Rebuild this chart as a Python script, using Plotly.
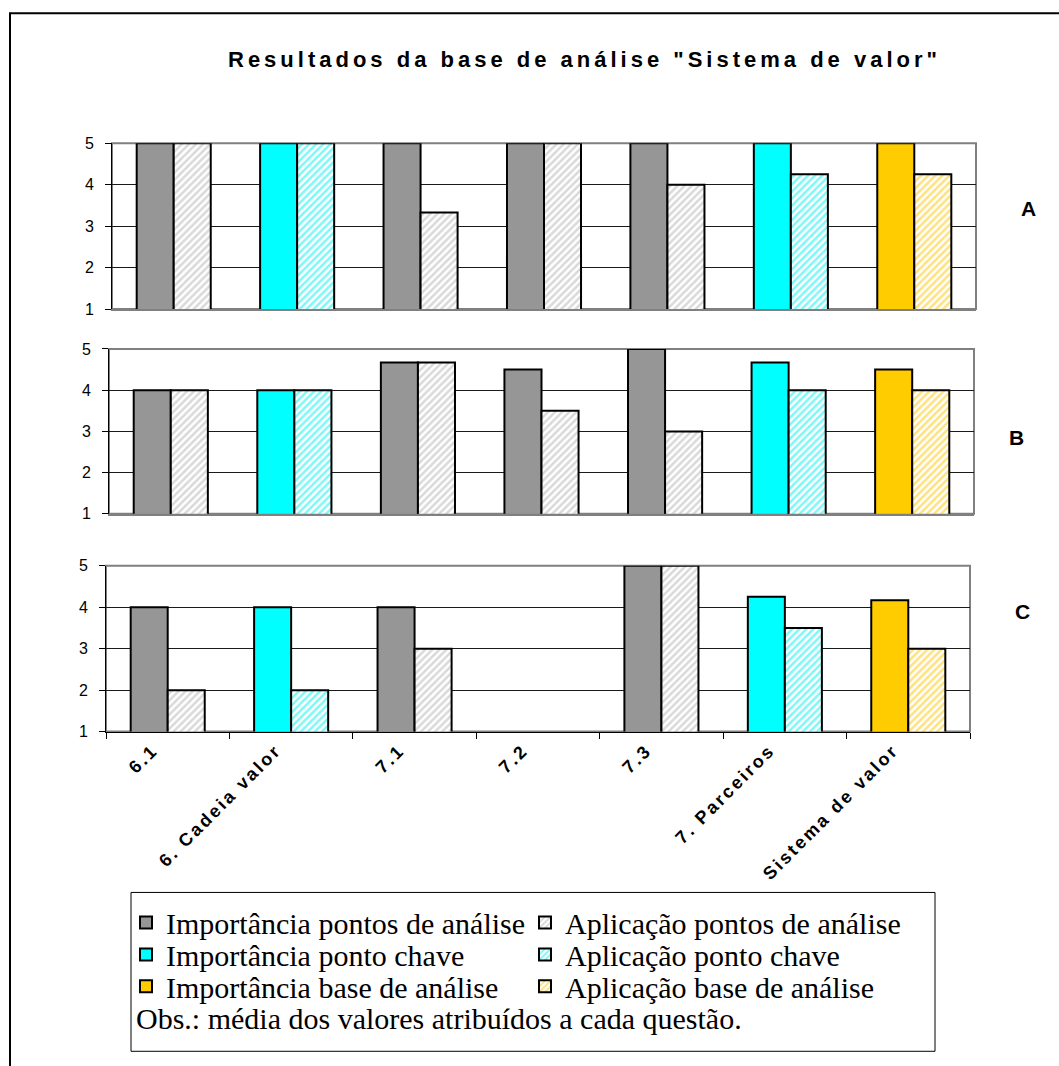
import plotly.graph_objects as go

# ---- data -------------------------------------------------------------
categories = ["6.1", "6. Cadeia valor", "7.1", "7.2", "7.3", "7. Parceiros", "Sistema de valor"]
# which colour family each category belongs to
category_kind = ["pontos", "chave", "pontos", "pontos", "pontos", "chave", "base"]

panel_labels = ["A", "B", "C"]

importancia_A = [5, 5, 5, 5, 5, 5, 5]
aplicacao_A = [5, 5, 3.33, 5, 4, 4.25, 4.25]

importancia_B = [4, 4, 4.67, 4.5, 5, 4.67, 4.5]
aplicacao_B = [4, 4, 4.67, 3.5, 3, 4, 4]

importancia_C = [4, 4, 4, None, 5, 4.25, 4.17]
aplicacao_C = [2, 2, 3, None, 5, 3.5, 3]

y_ticks = [1, 2, 3, 4, 5]

series_names = {
    ("imp", "pontos"): "Importância pontos de análise",
    ("apl", "pontos"): "Aplicação pontos de análise",
    ("imp", "chave"): "Importância ponto chave",
    ("apl", "chave"): "Aplicação ponto chave",
    ("imp", "base"): "Importância base de análise",
    ("apl", "base"): "Aplicação base de análise",
}
note_text = "Obs.: média dos valores atribuídos a cada questão."
title_text = 'Resultados da base de análise "Sistema de valor"'

# ---- styling ----------------------------------------------------------
W, H = 1059, 1066
solid_colors = {"pontos": "#969696", "chave": "#00FFFF", "base": "#FFCC00"}
hatch_colors = {"pontos": "#B4B4B4", "chave": "#00F0F0", "base": "#FFC400"}

# pixel boxes of the three panels: (left, right, top, bottom)
panel_boxes = [(112, 976, 143, 309), (109, 974, 349, 514), (106, 970, 566, 732)]
label_pos = [(1028, 208), (1016, 438), (1022, 612)]

# vertical layout scale (page rows -> figure rows)
Y_SCALE, Y_SHIFT = 0.985, 7.7


def px_x(px):
    return px / W


def px_y(py):
    return 1 - ((py - Y_SHIFT) / Y_SCALE) / H


def spaced(text, px):
    return f'<span style="letter-spacing:{px}px">{text}</span>'


def pick(values, kind):
    return [v if k == kind else None for v, k in zip(values, category_kind)]


panel_data = [(importancia_A, aplicacao_A), (importancia_B, aplicacao_B), (importancia_C, aplicacao_C)]

fig = go.Figure()

legend_order = [("imp", "pontos"), ("apl", "pontos"), ("imp", "chave"),
                ("apl", "chave"), ("imp", "base"), ("apl", "base")]
legend_ids = {key: ("legend" if i == 0 else f"legend{i + 1}") for i, key in enumerate(legend_order)}

for p, (imp, apl) in enumerate(panel_data):
    xa = "x" if p == 0 else f"x{p + 1}"
    ya = "y" if p == 0 else f"y{p + 1}"
    for kind in ["pontos", "chave", "base"]:
        for role, vals in (("imp", imp), ("apl", apl)):
            if role == "imp":
                marker = dict(color=solid_colors[kind], line=dict(color="black", width=2))
            else:
                marker = dict(color="white", line=dict(color="black", width=2),
                              pattern=dict(shape="/", fgcolor=hatch_colors[kind], bgcolor="white",
                                           size=5, solidity=0.5))
            fig.add_trace(go.Bar(
                x=categories, y=pick(vals, kind), name=series_names[(role, kind)],
                offsetgroup=role, marker=marker, xaxis=xa, yaxis=ya,
                legendgroup=f"{role}-{kind}", showlegend=(p == 0),
                legend=legend_ids[(role, kind)],
            ))

layout = dict(
    width=W, height=H, margin=dict(l=0, r=0, t=0, b=0),
    paper_bgcolor="white", plot_bgcolor="white",
    barmode="group", bargap=0.4, bargroupgap=0,
    font=dict(family="Liberation Sans, Arial", color="black"),
)

shapes = []
for p, (l, r, t, b) in enumerate(panel_boxes):
    xk = "xaxis" if p == 0 else f"xaxis{p + 1}"
    yk = "yaxis" if p == 0 else f"yaxis{p + 1}"
    xa = "x" if p == 0 else f"x{p + 1}"
    ya = "y" if p == 0 else f"y{p + 1}"
    last = p == 2
    layout[xk] = dict(
        domain=[px_x(l), px_x(r)], anchor=ya, type="category",
        categoryorder="array", categoryarray=categories,
        tickvals=categories, ticktext=[spaced(c, 2.5) for c in categories],
        showline=True, linecolor="black" if last else "#808080", linewidth=1 if last else 2,
        showgrid=False, ticks="outside" if last else "", tickson="boundaries",
        ticklen=6, tickcolor="black", showticklabels=last, tickangle=-45,
        tickfont=dict(family="Liberation Sans, Arial", size=18, color="black", weight="bold"),
        ticklabelstandoff=0, ticklabelshift=-15,
    )
    layout[yk] = dict(
        domain=[px_y(b), px_y(t)], anchor=xa, range=[1, 5], tickvals=y_ticks,
        showline=True, linecolor="black", linewidth=1,
        showgrid=True, gridcolor="#1a1a1a", gridwidth=1, zeroline=False,
        ticks="outside", ticklen=6, tickcolor="black", ticklabelstandoff=8,
        tickfont=dict(family="Liberation Sans, Arial", size=16, color="black"),
    )
    shapes.append(dict(type="rect", xref=f"{xa} domain", yref=f"{ya} domain",
                       x0=0, x1=1, y0=0, y1=1, line=dict(color="#808080", width=2),
                       layer="below"))

# outer chart frame
shapes.append(dict(type="rect", xref="paper", yref="paper",
                   x0=px_x(10), x1=px_x(1090), y0=px_y(13), y1=px_y(1100),
                   line=dict(color="black", width=2)))
# legend frame
shapes.append(dict(type="rect", xref="paper", yref="paper",
                   x0=px_x(131), x1=px_x(935), y0=px_y(893), y1=px_y(1052),
                   line=dict(color="black", width=1), fillcolor="rgba(0,0,0,0)"))
layout["shapes"] = shapes

# legends: two columns of three rows
legend_font = dict(family="Liberation Serif, Times New Roman", size=30, color="black")
col_text_x = [166, 565]
row_y = [923, 955, 987]
for i, key in enumerate(legend_order):
    col = i % 2
    row = i // 2
    layout[legend_ids[key]] = dict(
        x=px_x(col_text_x[col] - 40), y=px_y(row_y[row]),
        xanchor="left", yanchor="middle", bgcolor="rgba(0,0,0,0)",
        borderwidth=0, font=legend_font, itemwidth=30,
    )

annotations = [
    dict(text=f"<b>{spaced(title_text, 4)}</b>",
         x=px_x(584), y=px_y(59), xref="paper", yref="paper",
         xanchor="center", yanchor="middle", showarrow=False,
         font=dict(family="Liberation Sans, Arial", size=22, color="black")),
    dict(text=note_text, x=px_x(134), y=px_y(1019), xref="paper", yref="paper",
         xanchor="left", yanchor="middle", showarrow=False, font=legend_font),
]
for lab, (lx, ly) in zip(panel_labels, label_pos):
    annotations.append(dict(text=f"<b>{lab}</b>", x=px_x(lx), y=px_y(ly),
                            xref="paper", yref="paper", xanchor="center", yanchor="middle",
                            showarrow=False,
                            font=dict(family="Liberation Sans, Arial", size=21, color="black")))
layout["annotations"] = annotations

fig.update_layout(**layout)
fig.write_html("out.html")
